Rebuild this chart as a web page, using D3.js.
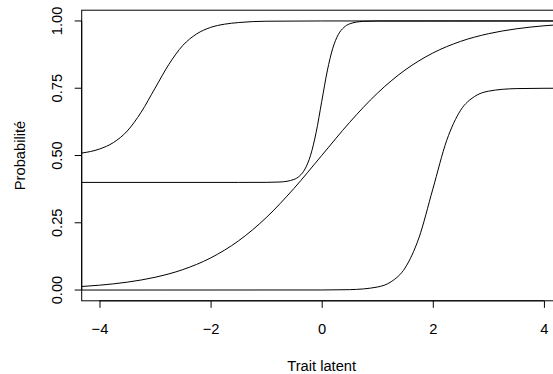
<!DOCTYPE html>
<html lang="fr">
<head>
  <meta charset="UTF-8">
  <title>Courbes caractéristiques</title>
  <script src="https://d3js.org/d3.v7.min.js"></script>
  <style>
    body { margin: 0; background: white; }
    text { font-family: "Liberation Sans", Arial, sans-serif; font-size: 14.7px; fill: black; }
    .curve { fill: none; stroke: black; stroke-width: 1px; }
  </style>
</head>
<body>
<svg id="chart"></svg>
<script>
  // values (trait latent -> probabilité)
  var item1X = [-4.32, -4, -3.75, -3.5, -3.25, -3, -2.75, -2.5, -2.25, -2, -1.75, -1.5, -1, 0, 4.32];
  var item1Y = [0.509, 0.524, 0.548, 0.591, 0.661, 0.75, 0.839, 0.909, 0.952, 0.976, 0.988, 0.994, 0.999, 1.0, 1.0];

  var item2X = [-4.32, -1.5, -1, -0.75, -0.5, -0.4, -0.3, -0.2, -0.1, 0, 0.1, 0.2, 0.3, 0.4, 0.5, 0.75, 1, 4.32];
  var item2Y = [0.4, 0.4, 0.4002, 0.4015, 0.411, 0.4235, 0.45, 0.501, 0.586, 0.7, 0.814, 0.899, 0.95, 0.976, 0.989, 0.9985, 0.9998, 1.0];

  var item3X = [-4.32, -4, -3.5, -3, -2.5, -2, -1.5, -1, -0.5, 0, 0.5, 1, 1.5, 2, 2.5, 3, 3.5, 4, 4.32];
  var item3Y = [0.0131, 0.018, 0.0293, 0.0474, 0.0759, 0.1192, 0.1824, 0.2689, 0.3775, 0.5, 0.6225, 0.7311, 0.8176, 0.8808, 0.9241, 0.9526, 0.9707, 0.982, 0.9869];

  var item4X = [-4.32, 0, 0.5, 1, 1.25, 1.5, 1.75, 2, 2.25, 2.5, 2.75, 3, 3.5, 4, 4.32];
  var item4Y = [0, 0.0002, 0.0014, 0.0111, 0.0309, 0.0818, 0.194, 0.375, 0.556, 0.668, 0.719, 0.739, 0.7486, 0.7498, 0.75];

  var xTicks = [-4, -2, 0, 2, 4];
  var yTicks = [0, 0.25, 0.5, 0.75, 1];
  var yTickLabels = ["0.00", "0.25", "0.50", "0.75", "1.00"];

  var svgWidth = 553, svgHeight = 374;

  var svg = d3.select("#chart")
      .attr("width", svgWidth)
      .attr("height", svgHeight);

  // R style: 4% padding round the data range
  var x = d3.scaleLinear().domain([-4.32, 4.32]).range([81.7, 561.7]);
  var y = d3.scaleLinear().domain([-0.04, 1.04]).range([300.8, 10.2]);

  // clip curves to the plot box
  svg.append("clipPath").attr("id", "box")
    .append("rect")
      .attr("x", x(-4.32)).attr("y", y(1.04))
      .attr("width", x(4.32) - x(-4.32))
      .attr("height", y(-0.04) - y(1.04));

  var line = d3.line()
      .x(function(d) { return x(d[0]); })
      .y(function(d) { return y(d[1]); })
      .curve(d3.curveMonotoneX);

  var items = [
    d3.zip(item1X, item1Y),
    d3.zip(item2X, item2Y),
    d3.zip(item3X, item3Y),
    d3.zip(item4X, item4Y)
  ];

  svg.append("g").attr("clip-path", "url(#box)")
    .selectAll("path")
    .data(items)
    .enter().append("path")
      .attr("class", "curve")
      .attr("d", line);

  // plot box
  svg.append("rect")
      .attr("x", x(-4.32)).attr("y", y(1.04))
      .attr("width", x(4.32) - x(-4.32))
      .attr("height", y(-0.04) - y(1.04))
      .attr("fill", "none")
      .attr("stroke", "black");

  // x axis
  var gx = svg.append("g")
      .attr("transform", "translate(0," + y(-0.04) + ")")
      .call(d3.axisBottom(x).tickValues(xTicks).tickSize(7).tickPadding(16)
        .tickFormat(function(d) { return d < 0 ? "\u2212" + Math.abs(d) : d; }));
  gx.select(".domain").remove();
  gx.selectAll("line").attr("stroke", "black");
  gx.selectAll("text").attr("font-size", null).attr("font-family", null);
  gx.append("line")
      .attr("x1", x(-4)).attr("x2", x(4))
      .attr("stroke", "black");

  // y axis (R draws the labels parallel to the axis)
  var gy = svg.append("g").attr("transform", "translate(" + x(-4.32) + ",0)");
  gy.append("line")
      .attr("y1", y(0)).attr("y2", y(1))
      .attr("stroke", "black");
  gy.selectAll(".tick")
      .data(yTicks)
      .enter().append("line")
      .attr("class", "tick")
      .attr("x1", -7).attr("x2", 0)
      .attr("y1", function(d) { return y(d); })
      .attr("y2", function(d) { return y(d); })
      .attr("stroke", "black");
  gy.selectAll(".lab")
      .data(yTicks)
      .enter().append("text")
      .attr("class", "lab")
      .attr("text-anchor", "middle")
      .attr("transform", function(d) { return "translate(-20," + y(d) + ") rotate(-90)"; })
      .text(function(d, i) { return yTickLabels[i]; });

  // axis titles
  svg.append("text")
      .attr("x", x(0))
      .attr("y", 370.5)
      .attr("text-anchor", "middle")
      .text("Trait latent");

  svg.append("text")
      .attr("text-anchor", "middle")
      .attr("transform", "translate(25," + y(0.5) + ") rotate(-90)")
      .text("Probabilité");
</script>
</body>
</html>
